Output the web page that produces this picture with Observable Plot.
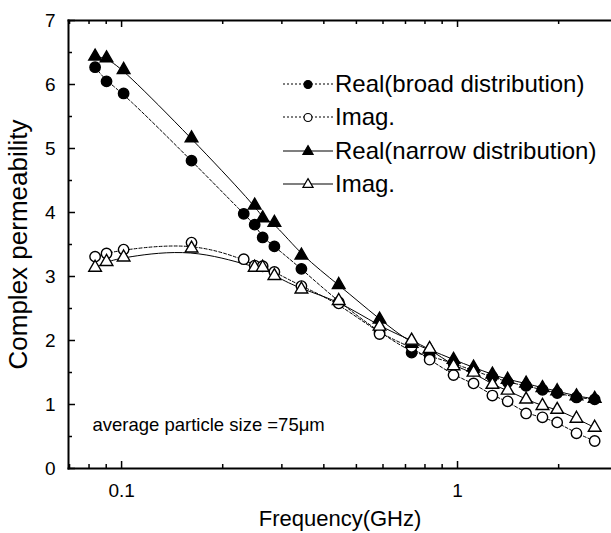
<!DOCTYPE html>
<html><head><meta charset="utf-8">
<script src="https://cdn.jsdelivr.net/npm/d3@7"></script>
<script src="https://cdn.jsdelivr.net/npm/@observablehq/plot@0.6"></script>
<style>
body{margin:0;background:#fff;font-family:"Liberation Sans",Arial,sans-serif;}
#wrap{position:relative;width:611px;height:533px;overflow:hidden;}
#legend{position:absolute;left:283px;top:67px;font-size:24px;color:#000;}
#legend div{display:flex;align-items:center;height:33.5px;white-space:nowrap;}
#legend svg{margin-right:2px;flex:none;}
</style></head>
<body><div id="wrap"><div id="chart"></div><div id="legend"></div></div>
<script>
const freq = [0.0834, 0.0902, 0.1014, 0.1615, 0.231, 0.249, 0.263, 0.285, 0.343, 0.443, 0.586, 0.73, 0.826, 0.973, 1.116, 1.27, 1.41, 1.60, 1.79, 1.98, 2.26, 2.56];
const realBroad = [6.27, 6.05, 5.86, 4.81, 3.98, 3.81, 3.61, 3.47, 3.12, 2.60, 2.13, 1.81, 1.76, 1.64, 1.53, 1.43, 1.35, 1.29, 1.23, 1.18, 1.11, 1.08];
const imagBroad = [3.31, 3.36, 3.42, 3.53, 3.27, 3.17, 3.16, 3.07, 2.85, 2.58, 2.10, 1.90, 1.70, 1.46, 1.33, 1.14, 1.05, 0.86, 0.80, 0.72, 0.55, 0.43];
const realNarrow = [6.44, 6.41, 6.23, 5.16, null, 4.11, 3.91, 3.84, 3.33, 2.87, 2.33, 1.95, 1.86, 1.70, 1.58, 1.47, 1.39, 1.33, 1.26, 1.21, 1.13, 1.09];
const imagNarrow = [3.14, 3.23, 3.30, 3.44, null, 3.14, 3.14, 3.01, 2.80, 2.62, 2.22, 2.00, 1.87, 1.60, 1.50, 1.31, 1.22, 1.08, 0.98, 0.92, 0.78, 0.64];
const seriesNames = ["Real(broad distribution)", "Imag.", "Real(narrow distribution)", "Imag."];
const xMajor = [0.1, 1];
const xMinor = [0.07, 0.08, 0.09, 0.2, 0.3, 0.4, 0.5, 0.6, 0.7, 0.8, 0.9, 2];
const yMajor = [0, 1, 2, 3, 4, 5, 6, 7];
const yMinor = [0.5, 1.5, 2.5, 3.5, 4.5, 5.5, 6.5];
const note = "average particle size =75\u03bcm";
const xTitle = "Frequency(GHz)";
const yTitle = "Complex permeability";

const series = [
  {name: seriesNames[0], vals: realBroad, symbol: "circle", fill: "black", dash: "3,2"},
  {name: seriesNames[1], vals: imagBroad, symbol: "circle", fill: "white", dash: "3,2"},
  {name: seriesNames[2], vals: realNarrow, symbol: "triangle", fill: "black", dash: null},
  {name: seriesNames[3], vals: imagNarrow, symbol: "triangle", fill: "white", dash: null}
];
const tables = series.map(s => freq.map((f, i) => ({f, v: s.vals[i]})).filter(d => d.v != null));

const W = 611, H = 533, ML = 68, MT = 20, MB = 65, MR = 0;
const pw = W - ML - MR, ph = H - MT - MB;
const xDomain = [0.0695, 2.873];

const marks = [];
series.forEach((s, k) => {
  marks.push(Plot.line(tables[k], {x: "f", y: "v", curve: "basis", stroke: "black", strokeWidth: 1, strokeDasharray: s.dash}));
});
series.forEach((s, k) => {
  marks.push(Plot.dot(tables[k], {x: "f", y: "v", symbol: () => s.symbol, r: s.symbol === "circle" ? 5.2 : 4.7, fill: s.fill, stroke: "black", strokeWidth: 1.4}));
});
// frame lines
marks.push(Plot.frame({anchor: "bottom", stroke: "black", strokeWidth: 2}));
marks.push(Plot.frame({anchor: "left", stroke: "black", strokeWidth: 2}));
marks.push(Plot.frame({anchor: "top", stroke: "black", strokeWidth: 2}));
// inward ticks
marks.push(Plot.tickX(xMajor, {x: d => d, insetTop: ph - 7, stroke: "black", strokeWidth: 1.5}));
marks.push(Plot.tickX(xMinor, {x: d => d, insetTop: ph - 4, stroke: "black", strokeWidth: 1.5}));
marks.push(Plot.tickX(xMajor, {x: d => d, insetBottom: ph - 7, stroke: "black", strokeWidth: 1.5}));
marks.push(Plot.tickX(xMinor, {x: d => d, insetBottom: ph - 4, stroke: "black", strokeWidth: 1.5}));
marks.push(Plot.tickY(yMajor, {y: d => d, insetRight: pw - 7, stroke: "black", strokeWidth: 1.5}));
marks.push(Plot.tickY(yMinor, {y: d => d, insetRight: pw - 4, stroke: "black", strokeWidth: 1.5}));
// axes labels
marks.push(Plot.axisX(xMajor, {tickSize: 0, tickPadding: 15, tickFormat: d => String(d), fontSize: 19, label: null}));
marks.push(Plot.axisY(yMajor, {tickSize: 0, tickPadding: 13, tickFormat: d => String(d), fontSize: 19, label: null}));
marks.push(Plot.text([xTitle], {frameAnchor: "bottom", dy: 50, text: d => d, fontSize: 22, textAnchor: "middle", lineAnchor: "middle", fill: "black"}));
marks.push(Plot.text([yTitle], {frameAnchor: "left", dx: -50, text: d => d, fontSize: 26, rotate: -90, textAnchor: "middle", lineAnchor: "middle", fill: "black"}));
marks.push(Plot.text([note], {frameAnchor: "bottom-left", dx: 24, dy: -43, text: d => d, fontSize: 18.5, textAnchor: "start", lineAnchor: "middle", fill: "black"}));

const plot = Plot.plot({
  width: W, height: H,
  marginLeft: ML, marginTop: MT, marginBottom: MB, marginRight: MR,
  style: {fontFamily: "'Liberation Sans', Arial, sans-serif", color: "black", background: "white", overflow: "visible"},
  x: {type: "log", domain: xDomain, axis: null},
  y: {domain: [0, 7], axis: null},
  marks
});
document.getElementById("chart").appendChild(plot);

// legend
const leg = document.getElementById("legend");
series.forEach(s => {
  const row = document.createElement("div");
  const ns = "http://www.w3.org/2000/svg";
  const sv = document.createElementNS(ns, "svg");
  sv.setAttribute("width", 50); sv.setAttribute("height", 14);
  const ln = document.createElementNS(ns, "line");
  ln.setAttribute("x1", 0); ln.setAttribute("x2", 50); ln.setAttribute("y1", 7); ln.setAttribute("y2", 7);
  ln.setAttribute("stroke", "black"); ln.setAttribute("stroke-width", 1.2);
  if (s.dash) ln.setAttribute("stroke-dasharray", "2,2");
  sv.appendChild(ln);
  const p = document.createElementNS(ns, "path");
  p.setAttribute("d", d3.symbol(s.symbol === "circle" ? d3.symbolCircle : d3.symbolTriangle, s.symbol === "circle" ? 50 : 45)());
  p.setAttribute("transform", "translate(25,7.5)");
  p.setAttribute("fill", s.fill); p.setAttribute("stroke", "black"); p.setAttribute("stroke-width", 1.2);
  sv.appendChild(p);
  row.appendChild(sv);
  const t = document.createElement("span"); t.textContent = s.name;
  row.appendChild(t);
  leg.appendChild(row);
});
</script></body></html>
